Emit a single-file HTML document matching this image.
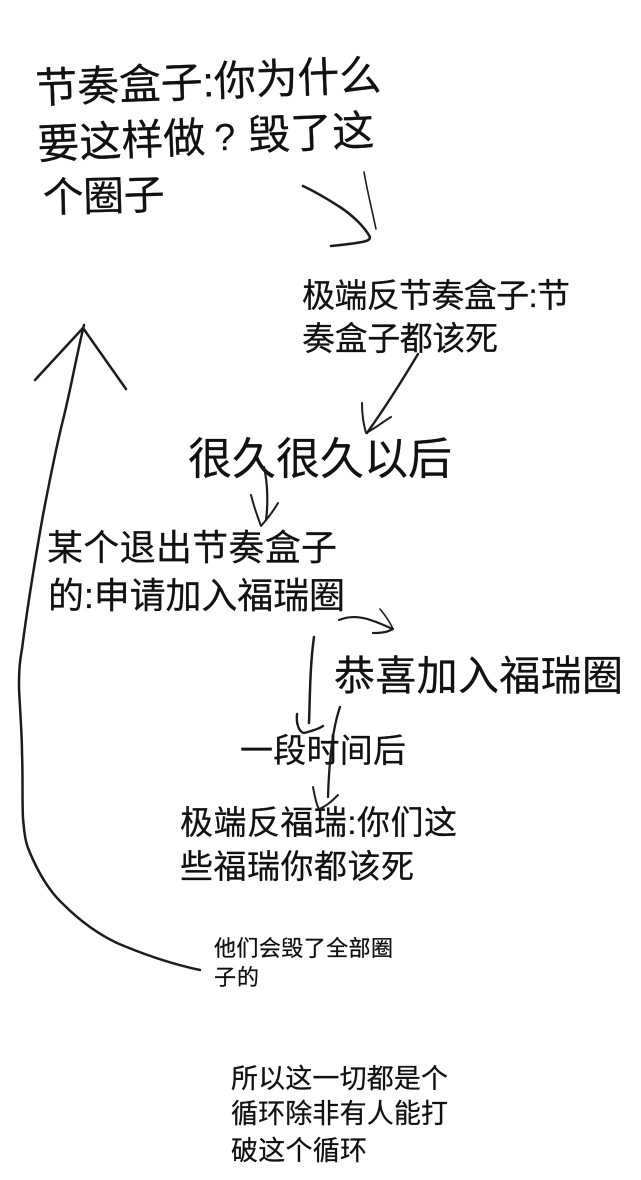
<!DOCTYPE html>
<html lang="zh">
<head>
<meta charset="utf-8">
<style>
html,body{margin:0;padding:0;background:#fff;width:641px;height:1180px;overflow:hidden}
svg{display:block;position:absolute;left:0;top:0}
text{font-family:"Liberation Sans","WenQuanYi Zen Hei","Noto Sans CJK SC",sans-serif;fill:#111;stroke:#111;stroke-width:.25;white-space:pre}
.s{fill:none;stroke:#1c1c1c;stroke-linecap:round;stroke-linejoin:round}
</style>
</head>
<body>
<svg width="641" height="1180" viewBox="0 0 641 1180" xmlns="http://www.w3.org/2000/svg">
<g>
<text x="36" y="103" font-size="42" textLength="346" lengthAdjust="spacing" transform="rotate(-2.2 36 103)">节奏盒子:你为什么</text>
<g transform="rotate(-2.4 38 158)">
<text x="38" y="159" font-size="42" textLength="168" lengthAdjust="spacing">要这样做</text>
<text x="215" y="158" font-size="38" style="stroke-width:0">?</text>
<text x="249" y="159" font-size="42" textLength="126" lengthAdjust="spacing">毁了这</text>
</g>
<text x="43" y="212" font-size="41" textLength="122" lengthAdjust="spacing" transform="rotate(-1.5 43 212)">个圈子</text>
<text x="302" y="307" font-size="33" textLength="268" lengthAdjust="spacing">极端反节奏盒子:节</text>
<text x="302" y="350" font-size="33" textLength="196" lengthAdjust="spacing">奏盒子都该死</text>
<text x="188" y="474" font-size="44" textLength="264" lengthAdjust="spacing">很久很久以后</text>
<text x="47" y="560" font-size="36" textLength="290" lengthAdjust="spacing">某个退出节奏盒子</text>
<text x="48" y="608" font-size="36" textLength="297" lengthAdjust="spacing">的:申请加入福瑞圈</text>
<text x="334" y="690" font-size="41" textLength="289" lengthAdjust="spacing">恭喜加入福瑞圈</text>
<text x="240" y="762" font-size="33" textLength="166" lengthAdjust="spacing">一段时间后</text>
<text x="180" y="834" font-size="33" textLength="277" lengthAdjust="spacing">极端反福瑞:你们这</text>
<text x="180" y="878" font-size="33" textLength="234" lengthAdjust="spacing">些福瑞你都该死</text>
<text x="214" y="956" font-size="22" textLength="179" lengthAdjust="spacing">他们会毁了全部圈</text>
<text x="214" y="985" font-size="22" textLength="45" lengthAdjust="spacing">子的</text>
<text x="231" y="1088" font-size="27" textLength="217" lengthAdjust="spacing">所以这一切都是个</text>
<text x="231" y="1123" font-size="27" textLength="217" lengthAdjust="spacing">循环除非有人能打</text>
<text x="231" y="1160" font-size="27" textLength="136" lengthAdjust="spacing">破这个循环</text>
</g>
<g>
<!-- top arrow -->
<path class="s" stroke-width="2.6" d="M303 186 C320 194 332 202 340 207 C352 215 364 226 370 237 C370 240 367 241 362 242 C352 244 340 245 331 246"/>
<path class="s" stroke-width="1.6" d="M364 172 C367 190 372 210 376 229"/>
<!-- arrow 2 -->
<path class="s" stroke-width="2.4" d="M418 354 C400 384 382 412 367 433"/>
<path class="s" stroke-width="2" d="M362 403 C362 416 364 426 366 433 C376 428 384 421 391 417"/>
<!-- arrow 3 -->
<path class="s" stroke-width="2.2" d="M264 467 C268 485 268 505 266 520"/>
<path class="s" stroke-width="2" d="M251 495 C254 507 258 518 261 526 C268 518 274 510 278 503"/>
<!-- arrow right -->
<path class="s" stroke-width="2.2" d="M339 620 C358 612 376 622 393 629 C386 633 378 633 373 633"/>
<path class="s" stroke-width="1.6" d="M380 609 C385 615 390 622 393 629"/>
<!-- left down arrow -->
<path class="s" stroke-width="2.5" d="M314 637 C310 665 310 695 309 723"/>
<path class="s" stroke-width="2.4" d="M297 714 C296 724 299 732 304 733 C312 731 320 728 323 726"/>
<!-- right down arrow -->
<path class="s" stroke-width="2.3" d="M340 707 C332 730 329 765 328 797"/>
<path class="s" stroke-width="2" d="M313 787 C315 798 317 806 319 809 C327 806 333 800 338 795"/>
<!-- big arrow -->
<path class="s" stroke-width="2.5" d="M84 325 C76 358 71 388 63 420 C55 452 49 484 43 515 C35 560 27 610 22 649 C19 665 19 675 19 688 C20 710 22 735 22 753 C23 775 22 800 23 818 C24 830 25 840 28 848 C36 868 48 890 63 904 C80 921 98 934 117 943 C145 955 172 964 200 970"/>
<path class="s" stroke-width="2.5" d="M35 380 L83 328 L126 389"/>
</g>
</svg>
</body>
</html>
